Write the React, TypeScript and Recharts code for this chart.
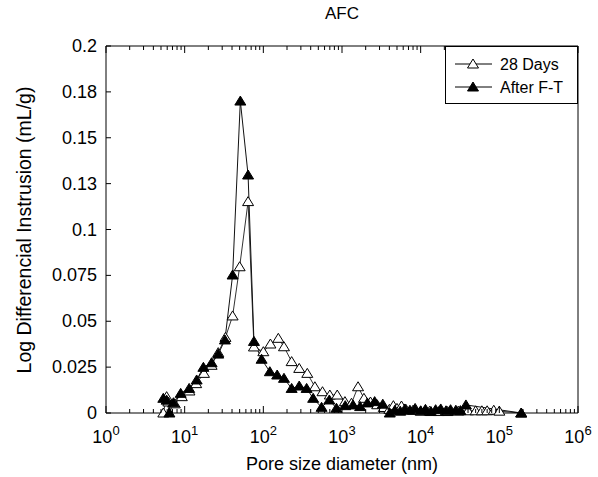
import React from "react";
import { LineChart, Line, XAxis, YAxis } from "recharts";

// ---- data (pore diameter in nm, log differential intrusion in mL/g) ----
const DAYS28_X = [5.35, 5.9, 6.2, 7.5, 9.2, 11.5, 14, 17.6, 22, 26.7, 33, 40.7, 50, 64, 76, 100, 123, 155, 183, 229, 286, 362, 452, 565, 700, 870, 1090, 1320, 1600, 1900, 2300, 2800, 3400, 4000, 4500, 5000, 5700, 6500, 8000, 10000, 13000, 17000, 22000, 30000, 40000, 50000, 60000, 70000, 85000, 100000, 190000];
const DAYS28_Y = [0, 0.0089, 0.006, 0.005, 0.0089, 0.012, 0.016, 0.0216, 0.026, 0.0329, 0.0412, 0.0529, 0.0797, 0.1152, 0.036, 0.0334, 0.0376, 0.0407, 0.0361, 0.028, 0.0243, 0.0216, 0.0143, 0.0116, 0.0098, 0.0098, 0.0062, 0.0053, 0.0143, 0.008, 0.006, 0.0045, 0.003, 0.002, 0.004, 0.0025, 0.0038, 0.002, 0.0015, 0.001, 0.001, 0.0008, 0.0008, 0.001, 0.0012, 0.0012, 0.0012, 0.0012, 0.0015, 0.001, 0];

const FT_X = [5.35, 5.9, 6.4, 7.2, 8.9, 11.4, 14.2, 17.3, 22, 26.7, 32.5, 40.7, 51, 64, 76, 95, 121, 150, 183, 229, 286, 355, 430, 550, 690, 850, 1100, 1380, 1700, 2100, 2600, 3300, 4050, 4700, 5500, 6300, 7300, 8500, 10000, 11500, 13500, 15500, 18000, 21000, 24000, 28000, 32000, 37600, 190000];
const FT_Y = [0.008, 0.007, 0, 0.0056, 0.0107, 0.0134, 0.018, 0.0249, 0.0274, 0.0321, 0.0398, 0.0752, 0.17, 0.1297, 0.039, 0.0293, 0.0225, 0.0207, 0.0189, 0.0134, 0.0147, 0.0134, 0.008, 0.0031, 0.0071, 0.0026, 0.004, 0.0044, 0.0035, 0.0055, 0.0062, 0.0048, 0, 0.0015, 0.001, 0.0022, 0.0015, 0.0025, 0.0012, 0.002, 0.0008, 0.0018, 0.0022, 0.0012, 0.0018, 0.0015, 0.0013, 0.0044, 0];

const Y_TICKS = [0, 0.025, 0.05, 0.075, 0.1, 0.125, 0.15, 0.175, 0.2];
const Y_TICK_LABELS = ["0", "0.025", "0.05", "0.075", "0.1", "0.13", "0.15", "0.18", "0.2"];
const X_MAJOR = [1, 10, 100, 1000, 10000, 100000, 1000000];

const TITLE = "AFC";
const X_LABEL = "Pore size diameter (nm)";
const Y_LABEL = "Log Differencial Instrusion (mL/g)";
const SERIES_NAMES = ["28 Days", "After F-T"];

const FONT = "'Liberation Sans', Arial, Helvetica, sans-serif";

const days28 = DAYS28_X.map((x, i) => ({ x, y: DAYS28_Y[i] }));
const ft = FT_X.map((x, i) => ({ x, y: FT_Y[i] }));

const X_TICKS: number[] = [];
X_MAJOR.forEach((m, i) => {
  X_TICKS.push(m);
  if (i < X_MAJOR.length - 1) for (let k = 2; k <= 9; k++) X_TICKS.push(m * k);
});

const isMajor = (v: number) => {
  const l = Math.log10(v);
  return Math.abs(l - Math.round(l)) < 1e-6;
};

const XTickBottom = (props: any) => {
  const { x, y, payload } = props;
  const v = payload.value;
  const major = isMajor(v);
  return (
    <g>
      <line x1={x} x2={x} y1={y} y2={y - (major ? 7 : 4)} stroke="#000" strokeWidth={1} />
      {major && (
        <text x={x} y={y + 30} textAnchor="middle" fontSize={18} fontFamily={FONT} fill="#000">
          10<tspan dy={-8} fontSize={13}>{Math.round(Math.log10(v))}</tspan>
        </text>
      )}
    </g>
  );
};

const XTickTop = (props: any) => {
  const { x, y, payload } = props;
  const major = isMajor(payload.value);
  return <line x1={x} x2={x} y1={y} y2={y + (major ? 7 : 4)} stroke="#000" strokeWidth={1} />;
};

const YTickLeft = (props: any) => {
  const { x, y, payload, index } = props;
  const i = Y_TICKS.indexOf(payload.value);
  return (
    <g>
      <line x1={x} x2={x + 5} y1={y} y2={y} stroke="#000" strokeWidth={1} />
      <text x={x - 9} y={y + 6} textAnchor="end" fontSize={18} fontFamily={FONT} fill="#000">
        {Y_TICK_LABELS[i >= 0 ? i : index]}
      </text>
    </g>
  );
};

const YTickRight = (props: any) => {
  const { x, y } = props;
  return <line x1={x} x2={x - 5} y1={y} y2={y} stroke="#000" strokeWidth={1} />;
};

const Tri = ({ cx, cy, fill }: { cx: number; cy: number; fill: string }) => (
  <path
    d={`M${cx},${cy - 5} L${cx + 5.5},${cy + 4} L${cx - 5.5},${cy + 4} Z`}
    fill={fill}
    stroke="#000"
    strokeWidth={1}
    strokeLinejoin="miter"
  />
);

const OpenDot = (props: any) => {
  const { cx, cy, index } = props;
  if (cx == null || cy == null) return <g key={`o${index}`} />;
  return <Tri key={`o${index}`} cx={cx} cy={cy} fill="#fff" />;
};
const FilledDot = (props: any) => {
  const { cx, cy, index } = props;
  if (cx == null || cy == null) return <g key={`f${index}`} />;
  return <Tri key={`f${index}`} cx={cx} cy={cy} fill="#000" />;
};

export default function App() {
  return (
    <div style={{ position: "absolute", left: 0, top: 0, width: 598, height: 477, background: "#fff" }}>
      <LineChart width={598} height={477} margin={{ top: 0, right: 0, bottom: 0, left: 0 }}>
        <XAxis
          dataKey="x"
          type="number"
          scale="log"
          domain={[1, 1000000]}
          allowDataOverflow
          ticks={X_TICKS}
          interval={0}
          tick={<XTickBottom />}
          tickSize={0}
          tickMargin={0}
          tickLine={false}
          height={64}
          axisLine={{ stroke: "#000", strokeWidth: 1 }}
        />
        <XAxis
          xAxisId="top"
          orientation="top"
          dataKey="x"
          type="number"
          scale="log"
          domain={[1, 1000000]}
          allowDataOverflow
          ticks={X_TICKS}
          interval={0}
          tick={<XTickTop />}
          tickSize={0}
          tickMargin={0}
          tickLine={false}
          height={46}
          axisLine={{ stroke: "#000", strokeWidth: 1 }}
        />
        <YAxis
          type="number"
          domain={[0, 0.2]}
          ticks={Y_TICKS}
          interval={0}
          tick={<YTickLeft />}
          tickSize={0}
          tickMargin={0}
          tickLine={false}
          width={106}
          axisLine={{ stroke: "#000", strokeWidth: 1 }}
        />
        <YAxis
          yAxisId="right"
          orientation="right"
          type="number"
          domain={[0, 0.2]}
          ticks={Y_TICKS}
          interval={0}
          tick={<YTickRight />}
          tickSize={0}
          tickMargin={0}
          tickLine={false}
          width={20}
          axisLine={{ stroke: "#000", strokeWidth: 1 }}
        />
        <Line
          data={days28}
          dataKey="y"
          name={SERIES_NAMES[0]}
          stroke="#333"
          strokeWidth={1}
          dot={<OpenDot />}
          activeDot={false}
          isAnimationActive={false}
          type="linear"
        />
        <Line
          data={ft}
          dataKey="y"
          name={SERIES_NAMES[1]}
          stroke="#111"
          strokeWidth={1}
          dot={<FilledDot />}
          activeDot={false}
          isAnimationActive={false}
          type="linear"
        />
      </LineChart>
      <svg
        width={598}
        height={477}
        style={{ position: "absolute", left: 0, top: 0, pointerEvents: "none" }}
      >
        <text x={342} y={19} textAnchor="middle" fontSize={17} fontFamily={FONT} fill="#000">
          {TITLE}
        </text>
        <text x={342} y={470} textAnchor="middle" fontSize={18} fontFamily={FONT} fill="#000">
          {X_LABEL}
        </text>
        <text
          x={0}
          y={0}
          transform="translate(31,230) rotate(-90)"
          textAnchor="middle"
          fontSize={19.5}
          fontFamily={FONT}
          fill="#000"
        >
          {Y_LABEL}
        </text>
        <g>
          <rect x={445.5} y={46.5} width={132} height={57} fill="#fff" stroke="#000" strokeWidth={1} />
          <line x1={455} x2={492} y1={64} y2={64} stroke="#000" />
          <Tri cx={473} cy={64} fill="#fff" />
          <text x={500} y={70} fontSize={16} fontFamily={FONT} fill="#000">
            {SERIES_NAMES[0]}
          </text>
          <line x1={455} x2={492} y1={87} y2={87} stroke="#000" />
          <Tri cx={473} cy={87} fill="#000" />
          <text x={500} y={93} fontSize={16} fontFamily={FONT} fill="#000">
            {SERIES_NAMES[1]}
          </text>
        </g>
      </svg>
    </div>
  );
}
